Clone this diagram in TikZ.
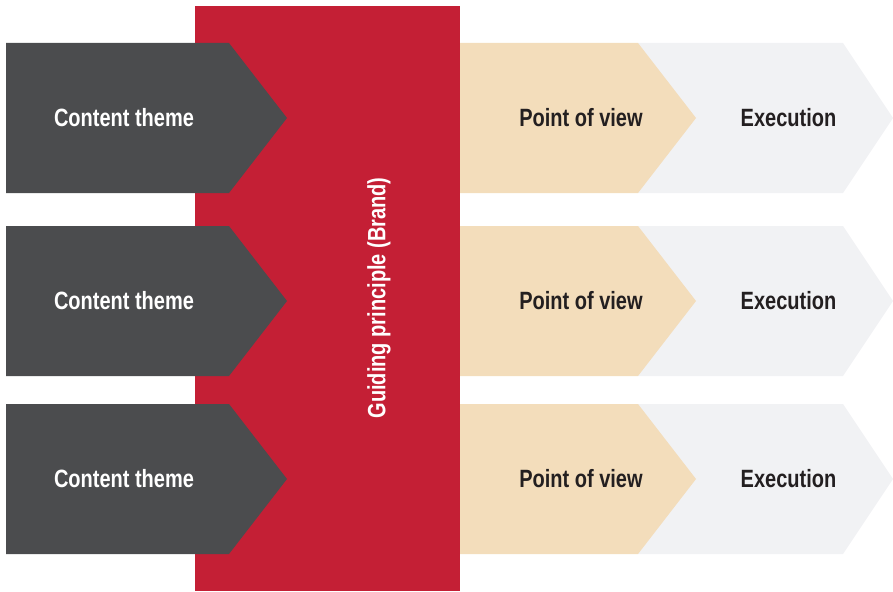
\documentclass[tikz,border=0pt]{standalone}
\usepackage{fontspec}
\setmainfont{Liberation Sans}
\newfontfamily\condfont[FakeStretch=0.8]{Liberation Sans}
\definecolor{brandred}{HTML}{C41F35}
\definecolor{darkgrey}{HTML}{4B4C4E}
\definecolor{tan}{HTML}{F3DDBB}
\definecolor{lightgrey}{HTML}{F1F2F4}
\definecolor{textdark}{HTML}{231F20}
\begin{document}
\begin{tikzpicture}[x=1pt,y=-1pt,
  lbl/.style={font=\condfont\bfseries\fontsize{25}{28}\selectfont, inner sep=0pt, anchor=center},
  darklbl/.style={lbl, text=white},
  lightlbl/.style={lbl, text=textdark}]
\useasboundingbox (0,0) rectangle (893,591);
\fill[brandred] (195,6) rectangle (460,591);
\node[lbl, text=white, rotate=90] (brand) at (379,298) {Guiding principle (Brand)};
\foreach \t/\b [count=\i] in {43/193, 226/376, 404/554}{
  \pgfmathsetmacro{\m}{(\t+\b)/2}
  \fill[lightgrey] (638,\t) -- (843,\t) -- (893,\m) -- (843,\b) -- (638,\b) -- cycle;
  \fill[tan] (460,\t) -- (638,\t) -- (696,\m) -- (638,\b) -- (460,\b) -- cycle;
  \fill[darkgrey] (6,\t) -- (229,\t) -- (287,\m) -- (229,\b) -- (6,\b) -- cycle;
  \node[darklbl] (ct\i) at (124,\m) {Content theme};
  \node[lightlbl] (pv\i) at (581,\m) {Point of view};
  \node[lightlbl] (ex\i) at (788.5,\m) {Execution};
}
\end{tikzpicture}
\end{document}
